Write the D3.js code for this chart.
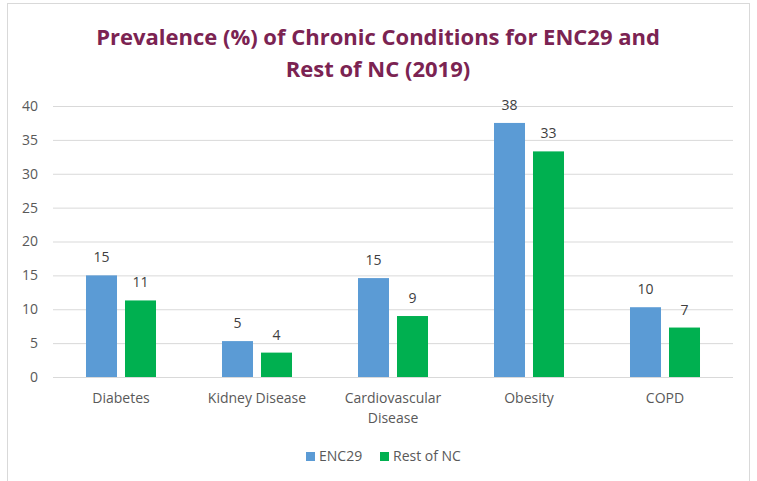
<!DOCTYPE html>
<html>
<head>
<meta charset="utf-8">
<script src="https://cdn.jsdelivr.net/npm/d3@7"></script>
<style>
  body { margin: 0; background: white; }
  text { font-family: "Open Sans", sans-serif; }
</style>
</head>
<body>
<svg width="757" height="481"></svg>
<script>
// data
var categories = ["Diabetes", "Kidney Disease", "Cardiovascular Disease", "Obesity", "COPD"];
var catLines = [["Diabetes"], ["Kidney Disease"], ["Cardiovascular", "Disease"], ["Obesity"], ["COPD"]];
var seriesNames = ["ENC29", "Rest of NC"];
var enc29 = [15.0, 5.3, 14.6, 37.5, 10.3];
var restNC = [11.3, 3.6, 9.0, 33.3, 7.3];
var yTicks = [0, 5, 10, 15, 20, 25, 30, 35, 40];
var colors = ["#5B9BD5", "#00B050"];

const svg = d3.select("svg"),
  width = +svg.attr("width"),
  height = +svg.attr("height");

// outer frame
svg.append("rect")
  .attr("x", 7.5).attr("y", 3.5)
  .attr("width", 742).attr("height", 480)
  .attr("fill", "white")
  .attr("stroke", "#D9D9D9");

var margin = {left: 53, right: 24, top: 106, bottom: 104};
var x = d3.scaleBand()
  .domain(categories)
  .range([margin.left, width - margin.right])
  .paddingInner(0)
  .paddingOuter(0);
var x1 = d3.scaleBand()
  .domain(seriesNames)
  .range([0, x.bandwidth()])
  .paddingInner(0.205)
  .paddingOuter(0.846);
var y = d3.scaleLinear()
  .domain([0, 40])
  .range([height - margin.bottom, margin.top]);

// title
var title = svg.append("text")
  .attr("text-anchor", "middle")
  .attr("fill", "#7B2352")
  .style("font-size", "22px")
  .style("font-weight", "bold");
title.append("tspan").attr("x", 378).attr("y", 45).text("Prevalence (%) of Chronic Conditions for ENC29 and");
title.append("tspan").attr("x", 378).attr("y", 77).text("Rest of NC (2019)");

// gridlines + y labels
var yAxis = d3.axisLeft(y).tickValues(yTicks).tickSize(-(width - margin.left - margin.right)).tickPadding(15);
var gy = svg.append("g")
  .attr("transform", "translate(" + margin.left + ",0)")
  .call(yAxis);
gy.select(".domain").remove();
gy.selectAll(".tick line").attr("stroke", "#D9D9D9");
gy.selectAll(".tick text")
  .attr("fill", "#595959")
  .style("font-size", "14px")
  .style("font-family", "'Open Sans', sans-serif");

// bars
var data = categories.map(function(c, i) {
  return {cat: c, vals: [{s: seriesNames[0], v: enc29[i]}, {s: seriesNames[1], v: restNC[i]}]};
});

var groups = svg.append("g").selectAll("g")
  .data(data)
  .enter().append("g")
  .attr("transform", d => "translate(" + x(d.cat) + ",0)");

groups.selectAll("rect")
  .data(d => d.vals)
  .enter().append("rect")
  .attr("x", d => x1(d.s))
  .attr("y", d => y(d.v))
  .attr("width", x1.bandwidth())
  .attr("height", d => y(0) - y(d.v))
  .attr("fill", (d, i) => colors[i]);

groups.selectAll("text.val")
  .data(d => d.vals)
  .enter().append("text")
  .attr("class", "val")
  .attr("x", d => x1(d.s) + x1.bandwidth() / 2)
  .attr("y", d => y(d.v) - 13)
  .attr("text-anchor", "middle")
  .attr("fill", "#404040")
  .style("font-size", "14px")
  .text(d => Math.round(d.v));

// category labels
categories.forEach(function(c, i) {
  var t = svg.append("text")
    .attr("text-anchor", "middle")
    .attr("fill", "#595959")
    .style("font-size", "14px");
  catLines[i].forEach(function(line, j) {
    t.append("tspan")
      .attr("x", x(c) + x.bandwidth() / 2)
      .attr("y", 403 + j * 20)
      .text(line);
  });
});

// legend
var legend = svg.append("g");
var legX = [306, 380];
seriesNames.forEach(function(s, i) {
  legend.append("rect")
    .attr("x", legX[i]).attr("y", 452)
    .attr("width", 9).attr("height", 9)
    .attr("fill", colors[i]);
  legend.append("text")
    .attr("x", legX[i] + 13).attr("y", 461)
    .attr("fill", "#595959")
    .style("font-size", "14px")
    .text(s);
});
</script>
</body>
</html>
